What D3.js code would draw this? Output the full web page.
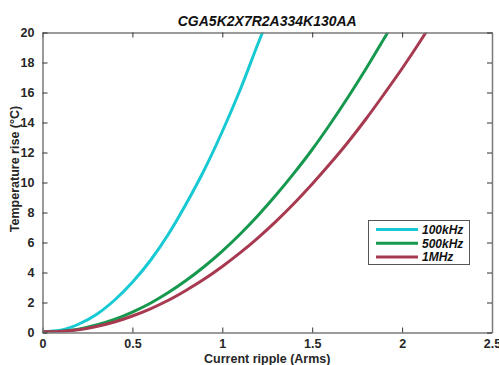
<!DOCTYPE html>
<html><head><meta charset="utf-8">
<script src="https://cdn.jsdelivr.net/npm/d3@7"></script>
<style>body{margin:0;background:#fff}svg{display:block}</style>
</head><body>
<svg id="chart" width="499" height="365"></svg>
<script>
const title = "CGA5K2X7R2A334K130AA";
const xLabel = "Current ripple (Arms)";
const yLabel = "Temperature rise (°C)";
const seriesNames = ["100kHz", "500kHz", "1MHz"];
const seriesColors = ["#17c9d2", "#16994f", "#a73a51"];
const xTicks = [0, 0.5, 1, 1.5, 2, 2.5];
const yTicks = [0, 2, 4, 6, 8, 10, 12, 14, 16, 18, 20];

const current100k = [0, 0.1, 0.2, 0.3, 0.4, 0.5, 0.6, 0.7, 0.8, 0.9, 1.0, 1.1, 1.2, 1.23];
const temp100k    = [0.05, 0.15, 0.55, 1.2, 2.15, 3.35, 4.8, 6.55, 8.6, 10.85, 13.4, 16.2, 19.3, 20.2];
const current500k = [0, 0.1, 0.2, 0.3, 0.4, 0.5, 0.6, 0.7, 0.8, 0.9, 1.0, 1.1, 1.2, 1.3, 1.4, 1.5, 1.6, 1.7, 1.8, 1.9, 1.93];
const temp500k    = [0.05, 0.08, 0.22, 0.5, 0.87, 1.36, 1.95, 2.66, 3.48, 4.4, 5.43, 6.57, 7.82, 9.18, 10.64, 12.2, 13.9, 15.7, 17.6, 19.6, 20.2];
const current1M   = [0, 0.1, 0.2, 0.3, 0.4, 0.5, 0.6, 0.7, 0.8, 0.9, 1.0, 1.1, 1.2, 1.3, 1.4, 1.5, 1.6, 1.7, 1.8, 1.9, 2.0, 2.1, 2.14];
const temp1M      = [0.05, 0.07, 0.18, 0.4, 0.7, 1.1, 1.58, 2.15, 2.82, 3.56, 4.4, 5.32, 6.33, 7.43, 8.62, 9.9, 11.26, 12.7, 14.25, 15.9, 17.6, 19.4, 20.15];

const series = [
  {name: seriesNames[0], color: seriesColors[0], xs: current100k, ys: temp100k},
  {name: seriesNames[1], color: seriesColors[1], xs: current500k, ys: temp500k},
  {name: seriesNames[2], color: seriesColors[2], xs: current1M, ys: temp1M}
];

const svg = d3.select("#chart");
const L = 42.5, R = 492, T = 32.5, B = 332.5;
const x = d3.scaleLinear().domain([0, 2.5]).range([L, R]);
const y = d3.scaleLinear().domain([0, 20]).range([B, T]);
const font = "'Liberation Sans', Arial, sans-serif";

svg.append("defs").append("clipPath").attr("id", "clip")
  .append("rect").attr("x", L).attr("y", T).attr("width", R - L).attr("height", B - T);

// curves
const line = d3.line().x(d => x(d[0])).y(d => y(d[1])).curve(d3.curveMonotoneX);
const g = svg.append("g").attr("clip-path", "url(#clip)");
series.forEach(s => {
  g.append("path").datum(s.xs.map((v, i) => [v, s.ys[i]]))
    .attr("d", line).attr("fill", "none").attr("stroke", s.color).attr("stroke-width", 3);
});

// axes
function styleAxis(sel, labels) {
  sel.select(".domain").attr("stroke", "#7a7a7a").attr("stroke-width", 1.5);
  sel.selectAll(".tick line").attr("stroke", "#333");
  sel.selectAll(".tick text").attr("fill", "#262626").attr("font-family", font)
    .attr("font-weight", "bold").attr("font-size", 12.5);
  if (!labels) sel.selectAll(".tick text").remove();
}
const fmt = d => d3.format("")(d);
svg.append("g").attr("transform", `translate(0,${B})`)
  .call(d3.axisBottom(x).tickValues(xTicks).tickFormat(fmt).tickSizeInner(-5).tickSizeOuter(0).tickPadding(7))
  .call(s => styleAxis(s, true));
svg.append("g").attr("transform", `translate(0,${T})`)
  .call(d3.axisTop(x).tickValues(xTicks).tickSizeInner(-5).tickSizeOuter(0))
  .call(s => styleAxis(s, false));
svg.append("g").attr("transform", `translate(${L},0)`)
  .call(d3.axisLeft(y).tickValues(yTicks).tickFormat(fmt).tickSizeInner(-5).tickSizeOuter(0).tickPadding(8))
  .call(s => styleAxis(s, true));
svg.append("g").attr("transform", `translate(${R},0)`)
  .call(d3.axisRight(y).tickValues(yTicks).tickSizeInner(-5).tickSizeOuter(0))
  .call(s => styleAxis(s, false));

// title and labels
svg.append("text").attr("x", (L + R) / 2).attr("y", 26).attr("text-anchor", "middle")
  .attr("font-family", font).attr("font-weight", "bold").attr("font-style", "italic")
  .attr("font-size", 14).attr("fill", "#111").text(title);
svg.append("text").attr("x", (L + R) / 2).attr("y", 363).attr("text-anchor", "middle")
  .attr("font-family", font).attr("font-weight", "bold").attr("font-size", 12.5)
  .attr("fill", "#262626").text(xLabel);
svg.append("text").attr("transform", "translate(19,169) rotate(-90)").attr("text-anchor", "middle")
  .attr("font-family", font).attr("font-weight", "bold").attr("font-size", 12.5)
  .attr("fill", "#262626").text(yLabel);

// legend
const lg = svg.append("g");
lg.append("rect").attr("x", 368.5).attr("y", 220.5).attr("width", 101).attr("height", 44)
  .attr("fill", "#fff").attr("stroke", "#555").attr("stroke-width", 1);
series.forEach((s, i) => {
  const yy = 229.5 + i * 13.7;
  lg.append("line").attr("x1", 376).attr("x2", 418).attr("y1", yy).attr("y2", yy)
    .attr("stroke", s.color).attr("stroke-width", 3);
  lg.append("text").attr("x", 422).attr("y", yy + 4.5).attr("font-family", font)
    .attr("font-weight", "bold").attr("font-style", "italic").attr("font-size", 12)
    .attr("fill", "#111").text(s.name);
});
</script>
</body></html>
